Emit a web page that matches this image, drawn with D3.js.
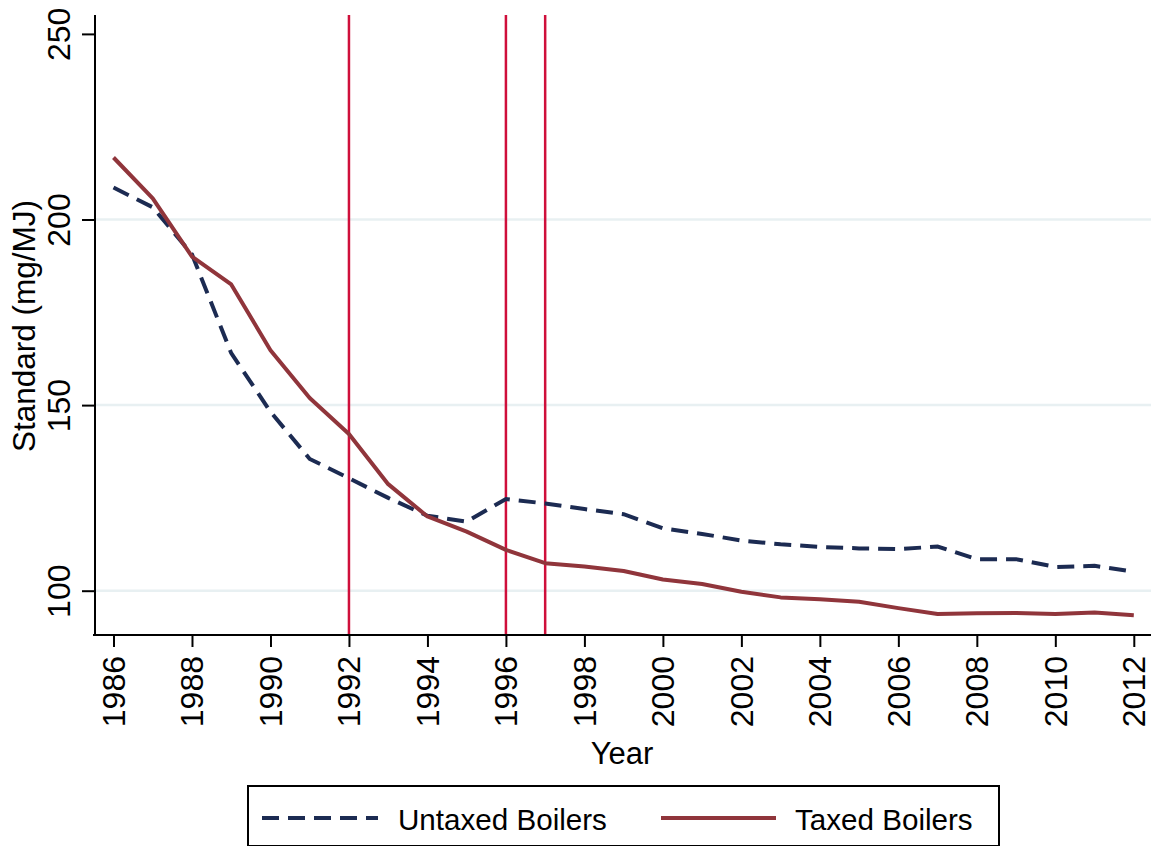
<!DOCTYPE html>
<html>
<head>
<meta charset="utf-8">
<script src="https://cdn.jsdelivr.net/npm/d3@7"></script>
<style>
  html, body { margin: 0; padding: 0; background: #fff; }
  svg { display: block; font-family: Arial, "Liberation Sans", sans-serif; }
</style>
</head>
<body>
<svg id="chart" width="1151" height="846"></svg>
<script>
// ---- data ----
const years = [1986,1987,1988,1989,1990,1991,1992,1993,1994,1995,1996,1997,1998,1999,2000,2001,2002,2003,2004,2005,2006,2007,2008,2009,2010,2011,2012];
const untaxed = [208.6,203.3,190.6,164.0,148.2,135.5,130.3,125.0,120.2,118.6,124.7,123.5,122.0,120.6,116.8,115.3,113.5,112.5,111.8,111.4,111.2,111.9,108.5,108.5,106.4,106.7,105.1];
const taxed = [216.7,205.7,190.0,182.5,164.8,151.9,142.2,128.7,120.0,115.9,111.0,107.4,106.5,105.3,103.0,101.8,99.7,98.2,97.7,97.0,95.3,93.7,93.9,94.0,93.7,94.1,93.4];
const policyYears = [1992,1996,1997];
const yTicks = [100,150,200,250];
const yGrid = [100,150,200];
const xTicks = [1986,1988,1990,1992,1994,1996,1998,2000,2002,2004,2006,2008,2010,2012];
const seriesNames = ["Untaxed Boilers","Taxed Boilers"];
const yTitle = "Standard (mg/MJ)";
const xTitle = "Year";

// ---- layout ----
const svg = d3.select("#chart");
const pLeft = 95, pRight = 1151, pTop = 15, pBottom = 635;
const x = d3.scaleLinear().domain([1986, 2012]).range([113.5, 1133.8]);
const y = d3.scaleLinear().domain([100, 250]).range([590.7, 33.9]);

const navy = "#1c2b52", maroon = "#90353b", vred = "#cf0f3b";

// grid
svg.append("g").selectAll("line").data(yGrid).join("line")
  .attr("x1", pLeft).attr("x2", pRight)
  .attr("y1", d => y(d)).attr("y2", d => y(d))
  .attr("stroke", "#e8f0f2").attr("stroke-width", 2.5);

// y axis
const yAxis = svg.append("g").attr("transform", `translate(${pLeft},0)`)
  .call(d3.axisLeft(y).tickValues(yTicks).tickSize(13).tickFormat(d3.format("d")));
yAxis.select(".domain").attr("d", `M0,${pTop}V${pBottom}`).attr("stroke", "#000").attr("stroke-width", 2);
yAxis.selectAll(".tick line").attr("stroke", "#000").attr("stroke-width", 2);
yAxis.selectAll(".tick text")
  .attr("x", null).attr("dy", null)
  .attr("transform", "translate(-25,0) rotate(-90)")
  .attr("text-anchor", "middle")
  .attr("font-size", 32).attr("fill", "#000")
  .attr("font-family", "Arial, 'Liberation Sans', sans-serif");

// x axis
const xAxis = svg.append("g").attr("transform", `translate(0,${pBottom})`)
  .call(d3.axisBottom(x).tickValues(xTicks).tickSize(12).tickFormat(d3.format("d")));
xAxis.select(".domain").attr("d", `M${pLeft - 2},0H${pRight}`).attr("stroke", "#000").attr("stroke-width", 2);
xAxis.selectAll(".tick line").attr("stroke", "#000").attr("stroke-width", 2);
xAxis.selectAll(".tick text")
  .attr("y", null).attr("dy", null)
  .attr("transform", "translate(11,21) rotate(-90)")
  .attr("text-anchor", "end")
  .attr("font-size", 32).attr("fill", "#000")
  .attr("font-family", "Arial, 'Liberation Sans', sans-serif");

// vertical policy lines
svg.append("g").selectAll("line").data(policyYears).join("line")
  .attr("x1", d => x(d)).attr("x2", d => x(d))
  .attr("y1", pTop).attr("y2", pBottom - 1)
  .attr("stroke", vred).attr("stroke-width", 2.5);

// series lines
const line = d3.line().x(d => x(d[0])).y(d => y(d[1]));
svg.append("path")
  .datum(years.map((yr, i) => [yr, untaxed[i]]))
  .attr("d", line).attr("fill", "none")
  .attr("stroke", navy).attr("stroke-width", 4)
  .attr("stroke-dasharray", "17,9");
svg.append("path")
  .datum(years.map((yr, i) => [yr, taxed[i]]))
  .attr("d", line).attr("fill", "none")
  .attr("stroke", maroon).attr("stroke-width", 4)
  .attr("stroke-linejoin", "round");

// axis titles
svg.append("text").attr("transform", "translate(35,326) rotate(-90)")
  .attr("text-anchor", "middle").attr("font-size", 31.5).attr("fill", "#000").text(yTitle);
svg.append("text").attr("x", 622).attr("y", 764)
  .attr("text-anchor", "middle").attr("font-size", 31).attr("fill", "#000").text(xTitle);

// legend
const lg = svg.append("g");
lg.append("rect").attr("x", 248).attr("y", 786).attr("width", 751).attr("height", 60)
  .attr("fill", "#fff").attr("stroke", "#000").attr("stroke-width", 2);
lg.append("line").attr("x1", 262).attr("x2", 378).attr("y1", 818).attr("y2", 818)
  .attr("stroke", navy).attr("stroke-width", 4).attr("stroke-dasharray", "17,9");
lg.append("text").attr("x", 398).attr("y", 830).attr("font-size", 29.6).attr("fill", "#000").text(seriesNames[0]);
lg.append("line").attr("x1", 661).attr("x2", 776).attr("y1", 818).attr("y2", 818)
  .attr("stroke", maroon).attr("stroke-width", 4);
lg.append("text").attr("x", 795).attr("y", 830).attr("font-size", 29.6).attr("fill", "#000").text(seriesNames[1]);
</script>
</body>
</html>
